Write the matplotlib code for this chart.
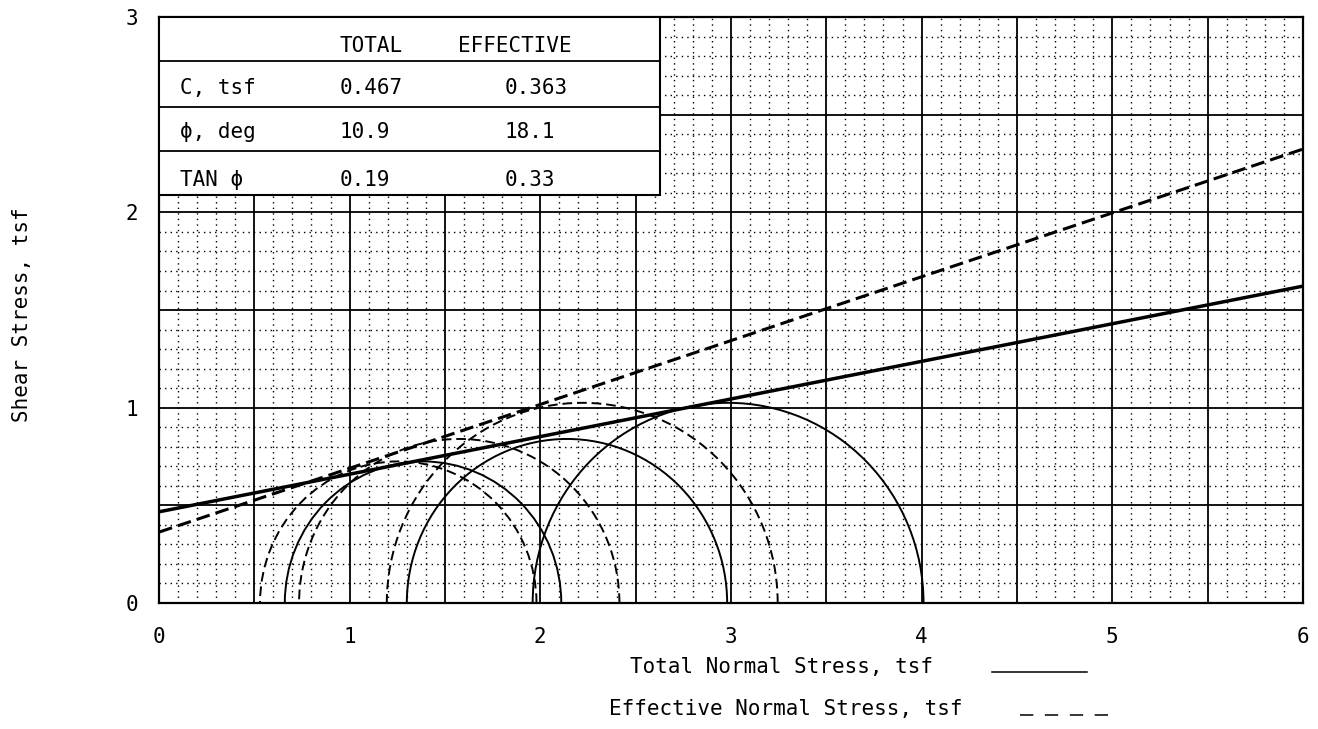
import numpy as np
import matplotlib
matplotlib.use("Agg")
import matplotlib.pyplot as plt
from matplotlib.patches import Arc, Rectangle
from matplotlib.lines import Line2D
from matplotlib.ticker import MultipleLocator, FuncFormatter

# -----------------------------
# DATA
# -----------------------------
# Mohr circles: minor / major principal stress, tsf
total_s3 = [0.66, 1.30, 1.96]
total_s1 = [2.11, 2.98, 4.01]
eff_s3 = [0.53, 0.735, 1.195]
eff_s1 = [1.98, 2.415, 3.245]

# strength envelopes
c_total, phi_total = 0.467, 10.9
c_eff, phi_eff = 0.363, 18.1

# summary table
table_header = ["TOTAL", "EFFECTIVE"]
table_rows = ["C, tsf", "\u03d5, deg", "TAN \u03d5"]
table_total = ["0.467", "10.9", "0.19"]
table_eff = ["0.363", "18.1", "0.33"]

x_max, y_max = 6, 3


def plot():
    plt.rcParams["font.family"] = ["DejaVu Sans Mono", "DejaVu Sans"]
    fig = plt.figure(figsize=(13.18, 7.29), dpi=100)
    ax = fig.add_axes([0.1206, 0.1728, 0.868, 0.8038])
    ax.set_xlim(0, x_max)
    ax.set_ylim(0, y_max)

    # grid: solid every 0.5, dotted every 0.1
    for axis in (ax.xaxis, ax.yaxis):
        axis.set_major_locator(MultipleLocator(0.5))
        axis.set_minor_locator(MultipleLocator(0.1))
        axis.set_major_formatter(FuncFormatter(
            lambda v, p: "%d" % round(v) if abs(v - round(v)) < 1e-6 else ""))
    ax.grid(which="major", color="black", lw=1.3, zorder=0)
    ax.grid(which="minor", color="black", lw=1.0, ls=(0, (1, 3)), zorder=0)
    ax.set_axisbelow(True)
    ax.tick_params(which="both", length=0, labelsize=15)
    ax.tick_params(axis="x", pad=17)
    ax.tick_params(axis="y", pad=15)
    for s in ax.spines.values():
        s.set_linewidth(1.6)

    # envelopes
    xs = np.array([0, x_max])
    ax.plot(xs, c_total + np.tan(np.radians(phi_total)) * xs,
            color="black", lw=2.5, zorder=4)
    ax.plot(xs, c_eff + np.tan(np.radians(phi_eff)) * xs,
            color="black", lw=2.2, ls=(0, (4.5, 2)), zorder=4)

    # Mohr circles
    for s3, s1 in zip(total_s3, total_s1):
        ax.add_patch(Arc(((s1 + s3) / 2, 0), s1 - s3, s1 - s3,
                         theta1=0, theta2=180, color="black", lw=1.4, zorder=3))
    for s3, s1 in zip(eff_s3, eff_s1):
        ax.add_patch(Arc(((s1 + s3) / 2, 0), s1 - s3, s1 - s3,
                         theta1=0, theta2=180, color="black", lw=1.4,
                         ls=(0, (5, 2.5)), zorder=3))

    # table in upper-left corner
    tx0, tx1, ty0, ty1 = 0, 2.627, 2.089, 3.0
    ax.add_patch(Rectangle((tx0, ty0), tx1 - tx0, ty1 - ty0, facecolor="white",
                           edgecolor="black", lw=1.5, zorder=5))
    for yl in (2.775, 2.54, 2.314):
        ax.plot([tx0, tx1], [yl, yl], color="black", lw=1.3, zorder=6)
    kw = dict(fontsize=15, va="center", zorder=7)
    ax.text(0.949, 2.854, table_header[0], **kw)
    ax.text(1.568, 2.854, table_header[1], **kw)
    for yc, lab, tv, ev in zip((2.637, 2.412, 2.166), table_rows, table_total, table_eff):
        ax.text(0.11, yc, lab, **kw)
        ax.text(0.949, yc, tv, **kw)
        ax.text(1.814, yc, ev, **kw)

    # axis labels with legend samples
    fig.text(0.0167, 0.569, "Shear Stress, tsf", rotation=90,
             fontsize=15, ha="center", va="center")
    fig.text(0.708, 0.085, "Total Normal Stress, tsf", fontsize=15,
             ha="right", va="center")
    fig.text(0.730, 0.027, "Effective Normal Stress, tsf", fontsize=15,
             ha="right", va="center")
    fig.add_artist(Line2D([0.7527, 0.8247], [0.078, 0.078], color="black",
                          lw=1.1, transform=fig.transFigure))
    fig.add_artist(Line2D([0.774, 0.844], [0.019, 0.019], color="black",
                          lw=1.1, ls=(0, (8.7, 7.6)), transform=fig.transFigure))

    fig.savefig("out.png", dpi=100)


if __name__ == "__main__":
    plot()
